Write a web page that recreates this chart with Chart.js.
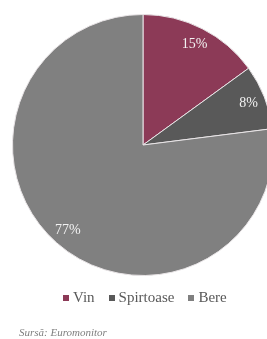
<!DOCTYPE html>
<html><head><meta charset="utf-8">
<script src="https://cdn.jsdelivr.net/npm/chart.js@4"></script>
<style>
html,body{margin:0;padding:0;background:#fff;overflow:hidden;width:267px;height:339px;}
#wrap{position:absolute;left:0;top:0;width:286px;height:290px;}
#legend{position:absolute;top:288px;left:63px;font-family:"Liberation Serif",serif;font-size:15px;color:#595959;white-space:nowrap;line-height:18px;}
#legend span.item{display:inline-block;margin-right:14px;}
#legend span.box{display:inline-block;width:6px;height:6px;margin-right:4px;vertical-align:1px;}
#src{position:absolute;top:326px;left:19px;font-family:"Liberation Serif",serif;font-style:italic;font-size:11px;color:#7f7f7f;white-space:nowrap;}
</style></head>
<body>
<div id="wrap"><canvas id="c"></canvas></div>
<div id="legend"></div>
<div id="src">Sursă: Euromonitor</div>
<script>
const categories = ["Vin", "Spirtoase", "Bere"];
const values = [15, 8, 77];
const colors = ["#8c3a57", "#595959", "#808080"];

const labelPlugin = {
  id: 'pctLabels',
  afterDatasetsDraw(chart) {
    const ctx = chart.ctx;
    const meta = chart.getDatasetMeta(0);
    ctx.save();
    ctx.font = '14px "Liberation Serif", serif';
    ctx.fillStyle = '#f2f2f2';
    ctx.textAlign = 'center';
    ctx.textBaseline = 'middle';
    meta.data.forEach((arc, i) => {
      const mid = (arc.startAngle + arc.endAngle) / 2;
      const r = arc.outerRadius * 0.87;
      const x = arc.x + Math.cos(mid) * r;
      const y = arc.y + Math.sin(mid) * r;
      ctx.fillText(values[i] + '%', x, y);
    });
    ctx.restore();
  }
};

new Chart(document.getElementById('c'), {
  type: 'pie',
  data: {
    labels: categories,
    datasets: [{
      data: values,
      backgroundColor: colors,
      borderColor: '#e8e4e6',
      borderWidth: 1
    }]
  },
  options: {
    responsive: true,
    maintainAspectRatio: false,
    animation: false,
    layout: { padding: { top: 14, bottom: 14, left: 0, right: 0 } },
    plugins: { legend: { display: false }, tooltip: { enabled: false } }
  },
  plugins: [labelPlugin]
});

const lg = document.getElementById('legend');
categories.forEach((c, i) => {
  const it = document.createElement('span');
  it.className = 'item';
  const b = document.createElement('span');
  b.className = 'box';
  b.style.background = colors[i];
  it.appendChild(b);
  it.appendChild(document.createTextNode(c));
  lg.appendChild(it);
});
</script>
</body></html>
